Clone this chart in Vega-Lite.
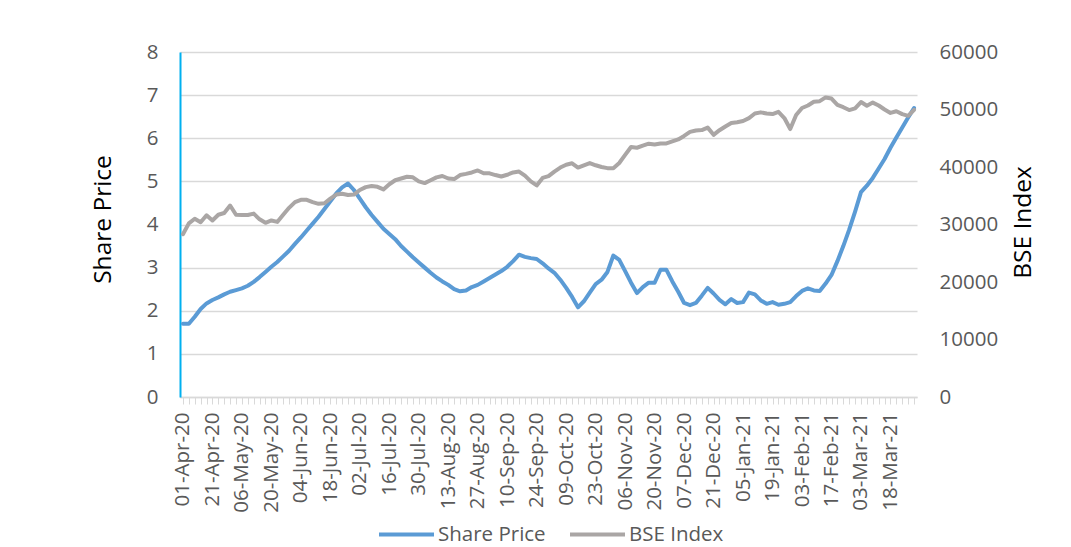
{
  "$schema": "https://vega.github.io/schema/vega-lite/v6.json",
  "width": 737,
  "height": 345,
  "autosize": {"type": "none"},
  "padding": {"left": 180, "top": 52, "right": 154, "bottom": 150},
  "background": "white",
  "config": {"view": {"stroke": null}, "font": "Open Sans"},
  "data": {"values": [
    {"d":"01-Apr-20","s":1.70,"b":28300},
    {"d":"07-Apr-20","s":1.70,"b":30200},
    {"d":"09-Apr-20","s":1.86,"b":31000},
    {"d":"15-Apr-20","s":2.04,"b":30400},
    {"d":"17-Apr-20","s":2.17,"b":31600},
    {"d":"21-Apr-20","s":2.25,"b":30700},
    {"d":"23-Apr-20","s":2.31,"b":31700},
    {"d":"27-Apr-20","s":2.38,"b":32000},
    {"d":"29-Apr-20","s":2.44,"b":33300},
    {"d":"04-May-20","s":2.48,"b":31700},
    {"d":"06-May-20","s":2.52,"b":31650},
    {"d":"08-May-20","s":2.58,"b":31650},
    {"d":"12-May-20","s":2.67,"b":31900},
    {"d":"14-May-20","s":2.78,"b":30900},
    {"d":"18-May-20","s":2.90,"b":30300},
    {"d":"20-May-20","s":3.02,"b":30700},
    {"d":"22-May-20","s":3.13,"b":30450},
    {"d":"27-May-20","s":3.26,"b":31700},
    {"d":"29-May-20","s":3.39,"b":32900},
    {"d":"02-Jun-20","s":3.55,"b":33900},
    {"d":"04-Jun-20","s":3.70,"b":34300},
    {"d":"08-Jun-20","s":3.86,"b":34300},
    {"d":"10-Jun-20","s":4.02,"b":33900},
    {"d":"12-Jun-20","s":4.18,"b":33600},
    {"d":"16-Jun-20","s":4.36,"b":33700},
    {"d":"18-Jun-20","s":4.54,"b":34500},
    {"d":"22-Jun-20","s":4.72,"b":35200},
    {"d":"24-Jun-20","s":4.86,"b":35350},
    {"d":"26-Jun-20","s":4.95,"b":35130},
    {"d":"30-Jun-20","s":4.80,"b":35200},
    {"d":"02-Jul-20","s":4.60,"b":36000},
    {"d":"06-Jul-20","s":4.40,"b":36500},
    {"d":"08-Jul-20","s":4.22,"b":36700},
    {"d":"10-Jul-20","s":4.06,"b":36550},
    {"d":"14-Jul-20","s":3.90,"b":36100},
    {"d":"16-Jul-20","s":3.78,"b":37000},
    {"d":"20-Jul-20","s":3.66,"b":37700},
    {"d":"22-Jul-20","s":3.50,"b":38000},
    {"d":"24-Jul-20","s":3.37,"b":38300},
    {"d":"28-Jul-20","s":3.24,"b":38200},
    {"d":"30-Jul-20","s":3.12,"b":37500},
    {"d":"03-Aug-20","s":3.00,"b":37200},
    {"d":"05-Aug-20","s":2.88,"b":37700},
    {"d":"07-Aug-20","s":2.77,"b":38200},
    {"d":"11-Aug-20","s":2.68,"b":38430},
    {"d":"13-Aug-20","s":2.60,"b":38000},
    {"d":"17-Aug-20","s":2.50,"b":37900},
    {"d":"19-Aug-20","s":2.45,"b":38600},
    {"d":"21-Aug-20","s":2.47,"b":38800},
    {"d":"25-Aug-20","s":2.55,"b":39050},
    {"d":"27-Aug-20","s":2.60,"b":39400},
    {"d":"31-Aug-20","s":2.68,"b":38900},
    {"d":"02-Sep-20","s":2.76,"b":38900},
    {"d":"04-Sep-20","s":2.84,"b":38600},
    {"d":"08-Sep-20","s":2.92,"b":38350},
    {"d":"10-Sep-20","s":3.02,"b":38650},
    {"d":"14-Sep-20","s":3.15,"b":39050},
    {"d":"16-Sep-20","s":3.30,"b":39200},
    {"d":"18-Sep-20","s":3.25,"b":38500},
    {"d":"22-Sep-20","s":3.22,"b":37500},
    {"d":"24-Sep-20","s":3.20,"b":36800},
    {"d":"28-Sep-20","s":3.10,"b":38100},
    {"d":"30-Sep-20","s":2.98,"b":38400},
    {"d":"05-Oct-20","s":2.88,"b":39200},
    {"d":"07-Oct-20","s":2.72,"b":39900},
    {"d":"09-Oct-20","s":2.53,"b":40400},
    {"d":"13-Oct-20","s":2.32,"b":40650},
    {"d":"15-Oct-20","s":2.08,"b":39900},
    {"d":"19-Oct-20","s":2.22,"b":40300},
    {"d":"21-Oct-20","s":2.42,"b":40690},
    {"d":"23-Oct-20","s":2.62,"b":40300},
    {"d":"27-Oct-20","s":2.72,"b":40000},
    {"d":"29-Oct-20","s":2.90,"b":39800},
    {"d":"02-Nov-20","s":3.28,"b":39800},
    {"d":"04-Nov-20","s":3.18,"b":40690},
    {"d":"06-Nov-20","s":2.92,"b":42100},
    {"d":"10-Nov-20","s":2.65,"b":43480},
    {"d":"12-Nov-20","s":2.41,"b":43350},
    {"d":"14-Nov-20","s":2.55,"b":43700},
    {"d":"18-Nov-20","s":2.65,"b":44050},
    {"d":"20-Nov-20","s":2.65,"b":43900},
    {"d":"24-Nov-20","s":2.95,"b":44100},
    {"d":"26-Nov-20","s":2.95,"b":44100},
    {"d":"01-Dec-20","s":2.68,"b":44450},
    {"d":"03-Dec-20","s":2.44,"b":44800},
    {"d":"07-Dec-20","s":2.18,"b":45400},
    {"d":"09-Dec-20","s":2.13,"b":46100},
    {"d":"11-Dec-20","s":2.18,"b":46350},
    {"d":"15-Dec-20","s":2.35,"b":46430},
    {"d":"17-Dec-20","s":2.53,"b":46850},
    {"d":"21-Dec-20","s":2.40,"b":45600},
    {"d":"23-Dec-20","s":2.25,"b":46400},
    {"d":"28-Dec-20","s":2.15,"b":47050},
    {"d":"30-Dec-20","s":2.27,"b":47650},
    {"d":"01-Jan-21","s":2.18,"b":47780},
    {"d":"05-Jan-21","s":2.20,"b":48000},
    {"d":"07-Jan-21","s":2.42,"b":48500},
    {"d":"11-Jan-21","s":2.38,"b":49300},
    {"d":"13-Jan-21","s":2.24,"b":49500},
    {"d":"15-Jan-21","s":2.16,"b":49300},
    {"d":"19-Jan-21","s":2.20,"b":49200},
    {"d":"21-Jan-21","s":2.14,"b":49600},
    {"d":"25-Jan-21","s":2.16,"b":48520},
    {"d":"28-Jan-21","s":2.20,"b":46600},
    {"d":"01-Feb-21","s":2.34,"b":49040},
    {"d":"03-Feb-21","s":2.46,"b":50260},
    {"d":"05-Feb-21","s":2.52,"b":50700},
    {"d":"09-Feb-21","s":2.47,"b":51350},
    {"d":"11-Feb-21","s":2.46,"b":51450},
    {"d":"15-Feb-21","s":2.63,"b":52100},
    {"d":"17-Feb-21","s":2.83,"b":51900},
    {"d":"19-Feb-21","s":3.15,"b":50800},
    {"d":"23-Feb-21","s":3.50,"b":50400},
    {"d":"25-Feb-21","s":3.88,"b":49900},
    {"d":"01-Mar-21","s":4.30,"b":50200},
    {"d":"03-Mar-21","s":4.75,"b":51300},
    {"d":"05-Mar-21","s":4.90,"b":50650},
    {"d":"09-Mar-21","s":5.08,"b":51200},
    {"d":"12-Mar-21","s":5.30,"b":50700},
    {"d":"16-Mar-21","s":5.52,"b":50000},
    {"d":"18-Mar-21","s":5.78,"b":49400},
    {"d":"22-Mar-21","s":6.02,"b":49700},
    {"d":"24-Mar-21","s":6.25,"b":49200},
    {"d":"26-Mar-21","s":6.48,"b":48900},
    {"d":"31-Mar-21","s":6.70,"b":49950}
  ]},
  "encoding": {
    "x": {
      "field": "d",
      "type": "ordinal",
      "sort": null,
      "scale": {"type": "point", "padding": 0.5},
      "axis": {
        "title": null,
        "labelExpr": "round(datum.index * 124) % 5 == 0 ? datum.label : ''",
        "labelAngle": -90,
        "labelFont": "Open Sans",
        "labelFontSize": 20.5,
        "labelColor": "#595959",
        "labelPadding": 8,
        "labelOverlap": false,
        "tickColor": "#D9D9D9",
        "tickSize": 7,
        "tickWidth": 1,
        "domainColor": "#D9D9D9",
        "domainWidth": 1.5,
        "grid": false
      }
    }
  },
  "layer": [
    {
      "mark": {"type": "line", "strokeWidth": 4, "strokeCap": "round", "strokeJoin": "round"},
      "encoding": {
        "y": {
          "field": "s",
          "type": "quantitative",
          "scale": {"domain": [0, 8], "nice": false, "zero": true},
          "axis": {
            "title": "Share Price",
            "values": [0, 1, 2, 3, 4, 5, 6, 7, 8],
            "grid": true,
            "gridColor": "#D9D9D9",
            "gridWidth": 1.3,
            "ticks": false,
            "domainColor": "#00B0F0",
            "domainWidth": 2,
            "labelFont": "Open Sans",
            "labelFontSize": 20.5,
            "labelColor": "#595959",
            "labelPadding": 22,
            "titleFont": "Open Sans",
            "titleFontSize": 24.5,
            "titleFontWeight": "normal",
            "titleColor": "#000000",
            "titleX": -77,
            "titleY": 167,
            "titleAngle": -90,
            "titleAlign": "center",
            "titleBaseline": "middle"
          }
        },
        "color": {
          "datum": "Share Price",
          "type": "nominal",
          "scale": {"domain": ["Share Price", "BSE Index"], "range": ["#5B9BD5", "#AAA6A5"]},
          "legend": {
            "title": null,
            "orient": "none",
            "legendX": 197,
            "legendY": 453,
            "direction": "horizontal",
            "symbolType": "stroke",
            "symbolSize": 3025,
            "symbolStrokeWidth": 4,
            "labelFont": "Open Sans",
            "labelFontSize": 20.5,
            "labelColor": "#595959",
            "labelOffset": 2,
            "columnPadding": 16
          }
        }
      }
    },
    {
      "mark": {"type": "line", "strokeWidth": 4, "strokeCap": "round", "strokeJoin": "round"},
      "encoding": {
        "y": {
          "field": "b",
          "type": "quantitative",
          "scale": {"domain": [0, 60000], "nice": false, "zero": true},
          "axis": {
            "orient": "right",
            "title": "BSE Index",
            "values": [0, 10000, 20000, 30000, 40000, 50000, 60000],
            "format": "d",
            "grid": false,
            "domain": false,
            "ticks": false,
            "labelFont": "Open Sans",
            "labelFontSize": 20.5,
            "labelColor": "#595959",
            "labelPadding": 22,
            "titleFont": "Open Sans",
            "titleFontSize": 24.5,
            "titleFontWeight": "normal",
            "titleColor": "#000000",
            "titleX": 106,
            "titleY": 170,
            "titleAngle": -90,
            "titleAlign": "center",
            "titleBaseline": "middle"
          }
        },
        "color": {"datum": "BSE Index", "type": "nominal"}
      }
    }
  ],
  "resolve": {"scale": {"y": "independent"}}
}
